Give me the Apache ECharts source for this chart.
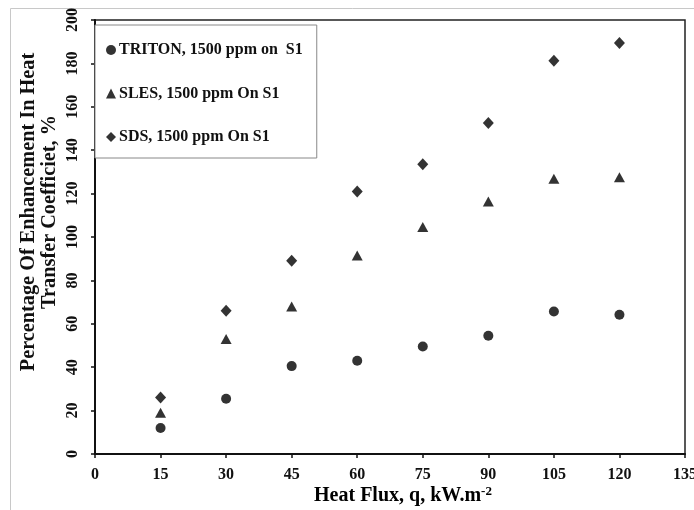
<!DOCTYPE html>
<html>
<head>
<meta charset="utf-8">
<script src="https://cdn.jsdelivr.net/npm/echarts@6/dist/echarts.min.js"></script>
<style>html,body{margin:0;padding:0;background:#fff;}#c{width:694px;height:510px;}</style>
</head>
<body>
<div id="c"></div>
<script>
var heatFlux = [15, 30, 45, 60, 75, 90, 105, 120];
var triton = [12, 25.5, 40.5, 43, 49.5, 54.5, 65.7, 64.2];
var sles = [19, 53, 68, 91.5, 104.6, 116.4, 126.9, 127.5];
var sds = [26, 66, 89, 121, 133.5, 152.5, 181.2, 189.4];
var seriesNames = ['TRITON, 1500 ppm on  S1', 'SLES, 1500 ppm On S1', 'SDS, 1500 ppm On S1'];
var xTitle = 'Heat Flux, q, kW.m';
var yTitle = 'Percentage Of Enhancement In Heat\nTransfer Coefficiet, %';

function pairs(ys) { return heatFlux.map(function (x, i) { return [x, ys[i]]; }); }

var font = 'Liberation Serif';
var chart = echarts.init(document.getElementById('c'), null, {renderer: 'canvas'});
chart.setOption({
  animation: false,
  backgroundColor: '#fff',
  grid: {left: 95, right: 9, top: 20, bottom: 56, containLabel: false, outerBoundsMode: 'none', show: true, borderColor: '#222', borderWidth: 1.5, backgroundColor: 'transparent'},
  xAxis: {
    type: 'value', min: 0, max: 135, interval: 15,
    axisLine: {show: true, onZero: false, lineStyle: {color: '#111', width: 2}},
    axisTick: {show: true, length: 4, lineStyle: {color: '#111', width: 1.5}},
    splitLine: {show: false},
    axisLabel: {color: '#111', fontFamily: font, fontWeight: 'bold', fontSize: 16, margin: 13}
  },
  yAxis: {
    type: 'value', min: 0, max: 200, interval: 20,
    axisLine: {show: true, lineStyle: {color: '#111', width: 2}},
    axisTick: {show: true, length: 4, lineStyle: {color: '#111', width: 1.5}},
    splitLine: {show: false},
    axisLabel: {color: '#111', fontFamily: font, fontWeight: 'bold', fontSize: 16, rotate: 90, margin: 14}
  },
  legend: {
    orient: 'vertical', left: 95, top: 25,
    padding: [17, 14, 13, 11], itemGap: 27.5,
    itemWidth: 10, itemHeight: 10,
    backgroundColor: '#fff', borderColor: '#888', borderWidth: 1,
    textStyle: {color: '#111', fontFamily: font, fontWeight: 'bold', fontSize: 16, padding: [0, 0, 0, -2]},
    data: [
      {name: seriesNames[0], icon: 'circle'},
      {name: seriesNames[1], icon: 'triangle'},
      {name: seriesNames[2], icon: 'diamond'}
    ]
  },
  graphic: [
    {type: 'rect', silent: true, z: -10, shape: {x: 10.5, y: 8.5, width: 800, height: 600}, style: {fill: 'none', stroke: '#c8c8c8', lineWidth: 1}},
    {type: 'text', x: 39, y: 212, rotation: Math.PI / 2, style: {text: yTitle, font: 'bold 20.3px "Liberation Serif"', fill: '#111', align: 'center', verticalAlign: 'middle', lineHeight: 21}},
    {type: 'text', x: 403, y: 496, style: {
      text: '{a|' + xTitle + '}{s|-2}', align: 'center', verticalAlign: 'middle',
      rich: {
        a: {fontFamily: font, fontWeight: 'bold', fontSize: 20, color: '#111'},
        s: {fontFamily: font, fontWeight: 'bold', fontSize: 13, color: '#111', verticalAlign: 'top', padding: [0, 0, 9, 0]}
      }
    }}
  ],
  series: [
    {name: seriesNames[0], type: 'scatter', symbol: 'circle', symbolSize: 10, itemStyle: {color: '#000'}, data: pairs(triton)},
    {name: seriesNames[1], type: 'scatter', symbol: 'triangle', symbolSize: [11, 10], itemStyle: {color: '#000'}, data: pairs(sles)},
    {name: seriesNames[2], type: 'scatter', symbol: 'diamond', symbolSize: [11, 12], itemStyle: {color: '#000'}, data: pairs(sds)}
  ]
});
</script>
</body>
</html>
